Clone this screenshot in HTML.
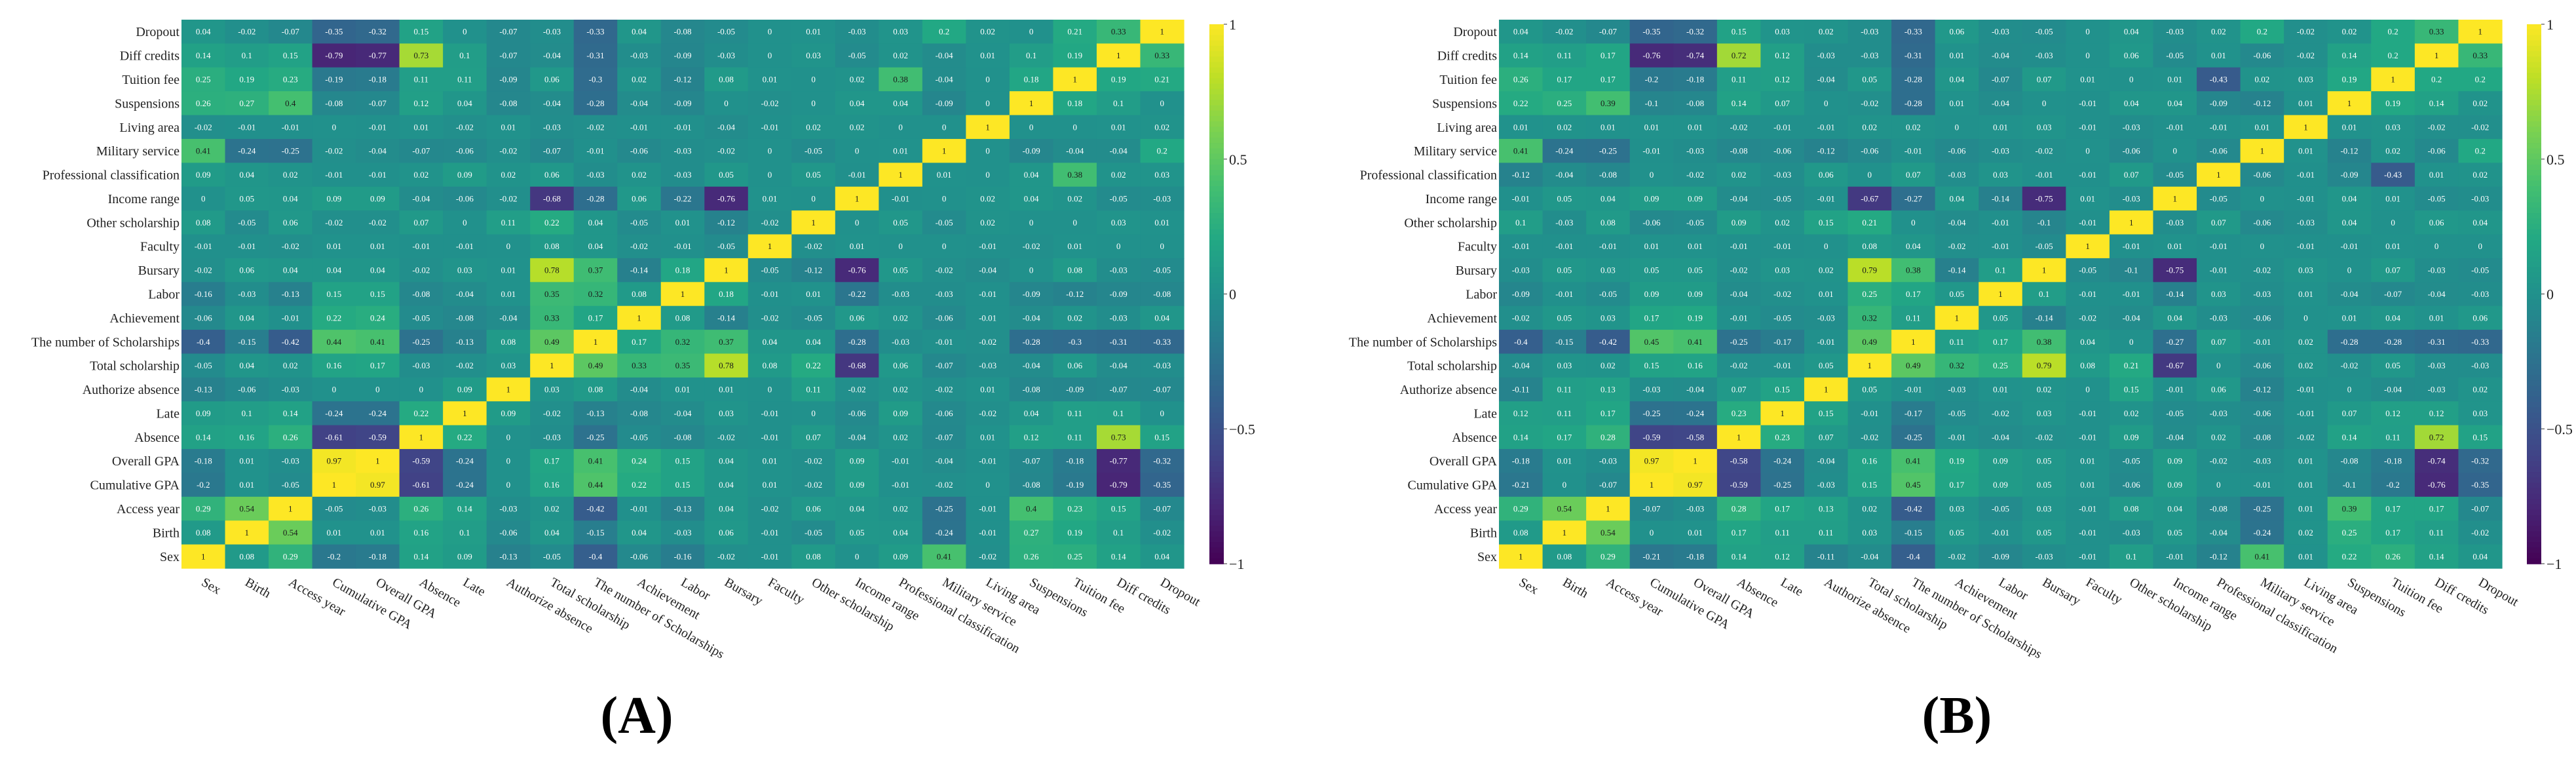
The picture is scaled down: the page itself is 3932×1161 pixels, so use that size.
<!DOCTYPE html>
<html><head><meta charset="utf-8"><title>Correlation heatmaps</title>
<style>
html,body{margin:0;padding:0;background:#fff;}
svg{display:block;}
text{font-family:"Liberation Serif",serif;}
</style></head>
<body>
<svg id="chart" width="3932" height="1161" viewBox="0 0 3932 1161" xmlns="http://www.w3.org/2000/svg"></svg>
<script>
const rowLabels = ["Dropout","Diff credits","Tuition fee","Suspensions","Living area","Military service","Professional classification","Income range","Other scholarship","Faculty","Bursary","Labor","Achievement","The number of Scholarships","Total scholarship","Authorize absence","Late","Absence","Overall GPA","Cumulative GPA","Access year","Birth","Sex"];
const colLabels = ["Sex","Birth","Access year","Cumulative GPA","Overall GPA","Absence","Late","Authorize absence","Total scholarship","The number of Scholarships","Achievement","Labor","Bursary","Faculty","Other scholarship","Income range","Professional classification","Military service","Living area","Suspensions","Tuition fee","Diff credits","Dropout"];
const colorbarTicks = [1,0.5,0,-0.5,-1];
const colorbarTickLabels = ["1","0.5","0","\u22120.5","\u22121"];
const valuesA = [
[0.04,-0.02,-0.07,-0.35,-0.32,0.15,0,-0.07,-0.03,-0.33,0.04,-0.08,-0.05,0,0.01,-0.03,0.03,0.2,0.02,0,0.21,0.33,1],
[0.14,0.1,0.15,-0.79,-0.77,0.73,0.1,-0.07,-0.04,-0.31,-0.03,-0.09,-0.03,0,0.03,-0.05,0.02,-0.04,0.01,0.1,0.19,1,0.33],
[0.25,0.19,0.23,-0.19,-0.18,0.11,0.11,-0.09,0.06,-0.3,0.02,-0.12,0.08,0.01,0,0.02,0.38,-0.04,0,0.18,1,0.19,0.21],
[0.26,0.27,0.4,-0.08,-0.07,0.12,0.04,-0.08,-0.04,-0.28,-0.04,-0.09,0,-0.02,0,0.04,0.04,-0.09,0,1,0.18,0.1,0],
[-0.02,-0.01,-0.01,0,-0.01,0.01,-0.02,0.01,-0.03,-0.02,-0.01,-0.01,-0.04,-0.01,0.02,0.02,0,0,1,0,0,0.01,0.02],
[0.41,-0.24,-0.25,-0.02,-0.04,-0.07,-0.06,-0.02,-0.07,-0.01,-0.06,-0.03,-0.02,0,-0.05,0,0.01,1,0,-0.09,-0.04,-0.04,0.2],
[0.09,0.04,0.02,-0.01,-0.01,0.02,0.09,0.02,0.06,-0.03,0.02,-0.03,0.05,0,0.05,-0.01,1,0.01,0,0.04,0.38,0.02,0.03],
[0,0.05,0.04,0.09,0.09,-0.04,-0.06,-0.02,-0.68,-0.28,0.06,-0.22,-0.76,0.01,0,1,-0.01,0,0.02,0.04,0.02,-0.05,-0.03],
[0.08,-0.05,0.06,-0.02,-0.02,0.07,0,0.11,0.22,0.04,-0.05,0.01,-0.12,-0.02,1,0,0.05,-0.05,0.02,0,0,0.03,0.01],
[-0.01,-0.01,-0.02,0.01,0.01,-0.01,-0.01,0,0.08,0.04,-0.02,-0.01,-0.05,1,-0.02,0.01,0,0,-0.01,-0.02,0.01,0,0],
[-0.02,0.06,0.04,0.04,0.04,-0.02,0.03,0.01,0.78,0.37,-0.14,0.18,1,-0.05,-0.12,-0.76,0.05,-0.02,-0.04,0,0.08,-0.03,-0.05],
[-0.16,-0.03,-0.13,0.15,0.15,-0.08,-0.04,0.01,0.35,0.32,0.08,1,0.18,-0.01,0.01,-0.22,-0.03,-0.03,-0.01,-0.09,-0.12,-0.09,-0.08],
[-0.06,0.04,-0.01,0.22,0.24,-0.05,-0.08,-0.04,0.33,0.17,1,0.08,-0.14,-0.02,-0.05,0.06,0.02,-0.06,-0.01,-0.04,0.02,-0.03,0.04],
[-0.4,-0.15,-0.42,0.44,0.41,-0.25,-0.13,0.08,0.49,1,0.17,0.32,0.37,0.04,0.04,-0.28,-0.03,-0.01,-0.02,-0.28,-0.3,-0.31,-0.33],
[-0.05,0.04,0.02,0.16,0.17,-0.03,-0.02,0.03,1,0.49,0.33,0.35,0.78,0.08,0.22,-0.68,0.06,-0.07,-0.03,-0.04,0.06,-0.04,-0.03],
[-0.13,-0.06,-0.03,0,0,0,0.09,1,0.03,0.08,-0.04,0.01,0.01,0,0.11,-0.02,0.02,-0.02,0.01,-0.08,-0.09,-0.07,-0.07],
[0.09,0.1,0.14,-0.24,-0.24,0.22,1,0.09,-0.02,-0.13,-0.08,-0.04,0.03,-0.01,0,-0.06,0.09,-0.06,-0.02,0.04,0.11,0.1,0],
[0.14,0.16,0.26,-0.61,-0.59,1,0.22,0,-0.03,-0.25,-0.05,-0.08,-0.02,-0.01,0.07,-0.04,0.02,-0.07,0.01,0.12,0.11,0.73,0.15],
[-0.18,0.01,-0.03,0.97,1,-0.59,-0.24,0,0.17,0.41,0.24,0.15,0.04,0.01,-0.02,0.09,-0.01,-0.04,-0.01,-0.07,-0.18,-0.77,-0.32],
[-0.2,0.01,-0.05,1,0.97,-0.61,-0.24,0,0.16,0.44,0.22,0.15,0.04,0.01,-0.02,0.09,-0.01,-0.02,0,-0.08,-0.19,-0.79,-0.35],
[0.29,0.54,1,-0.05,-0.03,0.26,0.14,-0.03,0.02,-0.42,-0.01,-0.13,0.04,-0.02,0.06,0.04,0.02,-0.25,-0.01,0.4,0.23,0.15,-0.07],
[0.08,1,0.54,0.01,0.01,0.16,0.1,-0.06,0.04,-0.15,0.04,-0.03,0.06,-0.01,-0.05,0.05,0.04,-0.24,-0.01,0.27,0.19,0.1,-0.02],
[1,0.08,0.29,-0.2,-0.18,0.14,0.09,-0.13,-0.05,-0.4,-0.06,-0.16,-0.02,-0.01,0.08,0,0.09,0.41,-0.02,0.26,0.25,0.14,0.04]
];
const valuesB = [
[0.04,-0.02,-0.07,-0.35,-0.32,0.15,0.03,0.02,-0.03,-0.33,0.06,-0.03,-0.05,0,0.04,-0.03,0.02,0.2,-0.02,0.02,0.2,0.33,1],
[0.14,0.11,0.17,-0.76,-0.74,0.72,0.12,-0.03,-0.03,-0.31,0.01,-0.04,-0.03,0,0.06,-0.05,0.01,-0.06,-0.02,0.14,0.2,1,0.33],
[0.26,0.17,0.17,-0.2,-0.18,0.11,0.12,-0.04,0.05,-0.28,0.04,-0.07,0.07,0.01,0,0.01,-0.43,0.02,0.03,0.19,1,0.2,0.2],
[0.22,0.25,0.39,-0.1,-0.08,0.14,0.07,0,-0.02,-0.28,0.01,-0.04,0,-0.01,0.04,0.04,-0.09,-0.12,0.01,1,0.19,0.14,0.02],
[0.01,0.02,0.01,0.01,0.01,-0.02,-0.01,-0.01,0.02,0.02,0,0.01,0.03,-0.01,-0.03,-0.01,-0.01,0.01,1,0.01,0.03,-0.02,-0.02],
[0.41,-0.24,-0.25,-0.01,-0.03,-0.08,-0.06,-0.12,-0.06,-0.01,-0.06,-0.03,-0.02,0,-0.06,0,-0.06,1,0.01,-0.12,0.02,-0.06,0.2],
[-0.12,-0.04,-0.08,0,-0.02,0.02,-0.03,0.06,0,0.07,-0.03,0.03,-0.01,-0.01,0.07,-0.05,1,-0.06,-0.01,-0.09,-0.43,0.01,0.02],
[-0.01,0.05,0.04,0.09,0.09,-0.04,-0.05,-0.01,-0.67,-0.27,0.04,-0.14,-0.75,0.01,-0.03,1,-0.05,0,-0.01,0.04,0.01,-0.05,-0.03],
[0.1,-0.03,0.08,-0.06,-0.05,0.09,0.02,0.15,0.21,0,-0.04,-0.01,-0.1,-0.01,1,-0.03,0.07,-0.06,-0.03,0.04,0,0.06,0.04],
[-0.01,-0.01,-0.01,0.01,0.01,-0.01,-0.01,0,0.08,0.04,-0.02,-0.01,-0.05,1,-0.01,0.01,-0.01,0,-0.01,-0.01,0.01,0,0],
[-0.03,0.05,0.03,0.05,0.05,-0.02,0.03,0.02,0.79,0.38,-0.14,0.1,1,-0.05,-0.1,-0.75,-0.01,-0.02,0.03,0,0.07,-0.03,-0.05],
[-0.09,-0.01,-0.05,0.09,0.09,-0.04,-0.02,0.01,0.25,0.17,0.05,1,0.1,-0.01,-0.01,-0.14,0.03,-0.03,0.01,-0.04,-0.07,-0.04,-0.03],
[-0.02,0.05,0.03,0.17,0.19,-0.01,-0.05,-0.03,0.32,0.11,1,0.05,-0.14,-0.02,-0.04,0.04,-0.03,-0.06,0,0.01,0.04,0.01,0.06],
[-0.4,-0.15,-0.42,0.45,0.41,-0.25,-0.17,-0.01,0.49,1,0.11,0.17,0.38,0.04,0,-0.27,0.07,-0.01,0.02,-0.28,-0.28,-0.31,-0.33],
[-0.04,0.03,0.02,0.15,0.16,-0.02,-0.01,0.05,1,0.49,0.32,0.25,0.79,0.08,0.21,-0.67,0,-0.06,0.02,-0.02,0.05,-0.03,-0.03],
[-0.11,0.11,0.13,-0.03,-0.04,0.07,0.15,1,0.05,-0.01,-0.03,0.01,0.02,0,0.15,-0.01,0.06,-0.12,-0.01,0,-0.04,-0.03,0.02],
[0.12,0.11,0.17,-0.25,-0.24,0.23,1,0.15,-0.01,-0.17,-0.05,-0.02,0.03,-0.01,0.02,-0.05,-0.03,-0.06,-0.01,0.07,0.12,0.12,0.03],
[0.14,0.17,0.28,-0.59,-0.58,1,0.23,0.07,-0.02,-0.25,-0.01,-0.04,-0.02,-0.01,0.09,-0.04,0.02,-0.08,-0.02,0.14,0.11,0.72,0.15],
[-0.18,0.01,-0.03,0.97,1,-0.58,-0.24,-0.04,0.16,0.41,0.19,0.09,0.05,0.01,-0.05,0.09,-0.02,-0.03,0.01,-0.08,-0.18,-0.74,-0.32],
[-0.21,0,-0.07,1,0.97,-0.59,-0.25,-0.03,0.15,0.45,0.17,0.09,0.05,0.01,-0.06,0.09,0,-0.01,0.01,-0.1,-0.2,-0.76,-0.35],
[0.29,0.54,1,-0.07,-0.03,0.28,0.17,0.13,0.02,-0.42,0.03,-0.05,0.03,-0.01,0.08,0.04,-0.08,-0.25,0.01,0.39,0.17,0.17,-0.07],
[0.08,1,0.54,0,0.01,0.17,0.11,0.11,0.03,-0.15,0.05,-0.01,0.05,-0.01,-0.03,0.05,-0.04,-0.24,0.02,0.25,0.17,0.11,-0.02],
[1,0.08,0.29,-0.21,-0.18,0.14,0.12,-0.11,-0.04,-0.4,-0.02,-0.09,-0.03,-0.01,0.1,-0.01,-0.12,0.41,0.01,0.22,0.26,0.14,0.04]
];

const NS = "http://www.w3.org/2000/svg";
const svg = document.getElementById("chart");
const VIR = ["#440154","#482475","#414487","#355f8d","#2a788e","#21918c","#22a884","#44bf70","#7ad151","#bddf26","#fde725"];
function hex(h){return [parseInt(h.substr(1,2),16),parseInt(h.substr(3,2),16),parseInt(h.substr(5,2),16)];}
function viridis(v){
  let t=(v+1)/2; t=Math.max(0,Math.min(1,t));
  const p=t*10, i=Math.min(9,Math.floor(p)), f=p-i;
  const a=hex(VIR[i]), b=hex(VIR[i+1]);
  return "rgb("+a.map((c,k)=>Math.round(c+(b[k]-c)*f)).join(",")+")";
}
function el(tag, attrs, parent){
  const e=document.createElementNS(NS,tag);
  for(const k in attrs) e.setAttribute(k,attrs[k]);
  (parent||svg).appendChild(e);
  return e;
}
const TOP=30, BOTTOM=867;
const n=rowLabels.length;
const rowH=(BOTTOM-TOP)/n;

function drawHeatmap(values, left, right, cbX, panelLabel, labelX, prefix){
  const g=el("g",{});
  
  
  const colW=(right-left)/colLabels.length;
  const xScale=j=>left+j*colW;
  const yScale=i=>TOP+i*rowH;
  values.forEach((row,i)=>{
    row.forEach((v,j)=>{
      const r=el("rect",{x:xScale(j),y:yScale(i),width:colW+0.6,height:rowH+0.6,fill:viridis(v)},g);
      
      
      const t=el("text",{x:xScale(j)+colW/2,y:yScale(i)+rowH/2+4.5,"text-anchor":"middle","font-size":"13",fill:(v>=0.3?"#1a1a1a":"#ffffff")},g);
      t.textContent=String(v);
      
      
    });
  });
  rowLabels.forEach((lab,i)=>{
    const t=el("text",{x:left-3,y:yScale(i)+rowH/2+7,"text-anchor":"end","font-size":"20",fill:"#222"},g);
    t.textContent=lab;
    
    
  });
  colLabels.forEach((lab,j)=>{
    const cx=xScale(j)+colW/2-4;
    const t=el("text",{transform:"translate("+cx+",892) rotate(30)","text-anchor":"start","font-size":"20",fill:"#222"},g);
    t.textContent=lab;
    
    
  });
  const cbTop=37, cbBot=860, cbW=22;
  const cb=el("g",{},g);
  
  
  const steps=100;
  for(let s=0;s<steps;s++){
    const v=1-2*s/steps;
    el("rect",{x:cbX,y:cbTop+(cbBot-cbTop)*s/steps,width:cbW,height:(cbBot-cbTop)/steps+0.8,fill:viridis(v-1/steps)},cb);
  }
  const cbY=v=>cbTop+(1-v)/2*(cbBot-cbTop);
  colorbarTicks.forEach((v,k)=>{
    el("line",{x1:cbX+cbW,x2:cbX+cbW+5,y1:cbY(v),y2:cbY(v),stroke:"#333","stroke-width":1},cb);
    const t=el("text",{x:cbX+cbW+8,y:cbY(v)+8,"font-size":"22",fill:"#222"},cb);
    t.textContent=colorbarTickLabels[k];
    
    
  });
  const pl=el("text",{x:labelX,y:1118,"text-anchor":"middle","font-size":"80","font-weight":"bold",fill:"#000"});
  pl.textContent=panelLabel;
  
  
}
drawHeatmap(valuesA, 277, 1807, 1846, "(A)", 972, "panel-a");
drawHeatmap(valuesB, 2288, 3819, 3857, "(B)", 2987, "panel-b");
</script>
</body></html>
